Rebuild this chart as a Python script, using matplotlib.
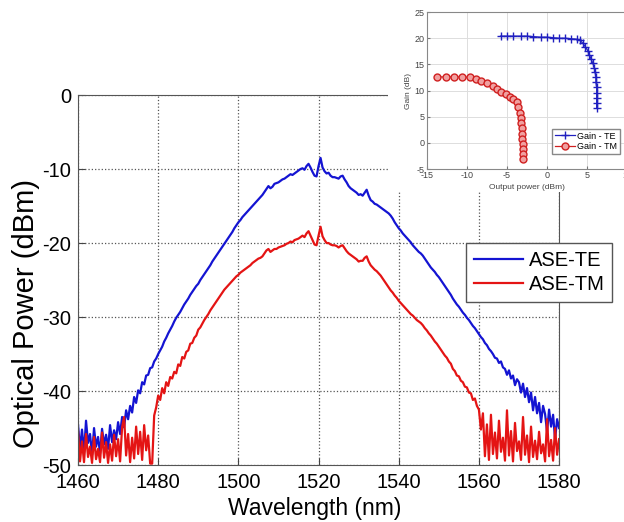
import numpy as np
import matplotlib.pyplot as plt
from matplotlib.patches import Rectangle

plt.rcParams['font.family'] = ['Liberation Sans', 'DejaVu Sans']
plt.rcParams['axes.unicode_minus'] = False

# ASE spectra, sampled every 0.5 nm from 1460 to 1580 nm
wl = np.arange(1460, 1580.01, 0.5)
ase_te = [
    -44.5, -47.8, -45.2, -48.3, -44.0, -47.0, -45.8, -48.6, -45.0, -47.5,
    -46.2, -48.4, -45.1, -47.2, -45.9, -47.8, -44.6, -46.9, -45.3, -46.5,
    -44.2, -45.8, -43.5, -44.9, -42.6, -43.8, -42.0, -42.9, -40.8, -41.6,
    -39.9, -40.3, -38.8, -39.1, -37.9, -37.8, -36.9, -36.8, -36.0, -35.6,
    -35.0, -34.5, -34.0, -33.3, -32.8, -32.2, -31.7, -31.2, -30.6, -30.1,
    -29.7, -29.3, -28.8, -28.3, -27.9, -27.5, -27.0, -26.6, -26.2, -25.8,
    -25.5, -25.0, -24.6, -24.2, -23.8, -23.4, -23.0, -22.5, -22.1, -21.7,
    -21.3, -20.9, -20.5, -20.1, -19.7, -19.3, -18.9, -18.5, -18.0, -17.6,
    -17.2, -16.9, -16.5, -16.2, -15.9, -15.6, -15.3, -15.0, -14.7, -14.4,
    -14.1, -13.8, -13.5, -13.1, -12.7, -12.3, -12.6, -12.4, -12.0, -11.9,
    -11.8, -11.6, -11.4, -11.3, -11.1, -10.9, -10.7, -10.8, -10.6, -10.4,
    -10.2, -10.0, -9.9, -10.1, -9.6, -9.3, -9.8, -10.4, -10.9, -11.0,
    -9.6, -8.5, -9.8, -10.3, -10.6, -10.5, -10.9, -11.1, -11.1, -11.2,
    -11.3, -11.0, -10.9, -11.4, -11.8, -12.3, -12.6, -12.8, -13.0, -13.2,
    -13.5, -13.4, -13.6, -13.2, -12.8, -13.6, -14.2, -14.4, -14.7, -14.8,
    -15.0, -15.2, -15.4, -15.6, -15.8, -16.0, -16.3, -16.7, -17.2, -17.6,
    -18.0, -18.3, -18.7, -19.0, -19.3, -19.6, -19.9, -20.3, -20.6, -20.9,
    -21.2, -21.4, -21.7, -22.1, -22.5, -22.9, -23.3, -23.6, -23.9, -24.3,
    -24.6, -25.0, -25.4, -25.8, -26.2, -26.6, -27.0, -27.5, -27.9, -28.3,
    -28.6, -29.0, -29.4, -29.7, -30.1, -30.4, -30.8, -31.2, -31.5, -31.9,
    -32.3, -32.7, -33.0, -33.5, -33.8, -34.3, -34.6, -35.0, -35.5, -35.6,
    -36.2, -36.0, -36.8, -37.0, -37.8, -37.2, -38.3, -37.9, -39.2, -38.4,
    -38.8, -40.2, -39.0, -40.8, -39.6, -41.5, -40.2, -42.6, -40.8, -43.0,
    -41.6, -44.2, -42.0, -43.1, -45.5, -42.5, -44.8, -43.2, -46.5, -43.8,
    -45.0]
ase_tm = [
    -45.3, -49.5, -46.8, -49.6, -45.8, -48.9, -47.5, -49.7, -46.2, -49.2,
    -47.8, -49.6, -45.6, -49.0, -46.9, -49.7, -47.2, -49.4, -45.9, -48.8,
    -46.5, -49.5, -44.9, -43.5, -48.7, -45.8, -49.6, -46.3, -49.1, -44.8,
    -48.5, -45.5, -49.3, -44.6, -48.0, -46.0, -49.8, -49.8, -43.3, -42.2,
    -40.6, -41.2, -39.6, -40.3, -38.8, -39.3, -38.1, -38.3, -37.4, -37.6,
    -36.4, -36.6, -35.4, -35.6, -34.7, -34.5, -33.6, -33.5, -32.8, -32.5,
    -31.7, -31.4, -30.9, -30.4, -30.0, -29.6, -29.1, -28.7, -28.3, -27.9,
    -27.5, -27.1, -26.7, -26.3, -26.0, -25.7, -25.4, -25.1, -24.8, -24.5,
    -24.3, -24.0, -23.8, -23.6, -23.4, -23.2, -23.0, -22.7, -22.5, -22.3,
    -22.1, -22.0, -21.8, -21.4, -21.0, -20.8, -21.2, -21.0, -20.8, -20.8,
    -20.6, -20.5, -20.4, -20.3, -20.1, -20.0, -19.8, -19.9, -19.6, -19.5,
    -19.4, -19.2, -19.0, -19.2, -18.7, -18.4, -19.0, -19.6, -20.2, -20.3,
    -19.0, -17.8, -19.1, -19.6, -20.0, -20.0, -20.2, -20.3, -20.3, -20.4,
    -20.6, -20.4, -20.3, -20.7, -21.1, -21.4, -21.6, -21.8, -22.0, -22.2,
    -22.5, -22.4, -22.4, -22.0, -21.8, -22.5, -23.0, -23.3, -23.6, -23.8,
    -24.1, -24.4, -24.8, -25.2, -25.6, -26.0, -26.4, -26.7, -27.1, -27.4,
    -27.8, -28.1, -28.4, -28.7, -29.0, -29.3, -29.6, -29.8, -30.1, -30.4,
    -30.6, -30.8, -31.1, -31.5, -31.8, -32.2, -32.5, -32.9, -33.3, -33.6,
    -34.0, -34.4, -34.8, -35.2, -35.5, -36.0, -36.3, -37.0, -37.3, -37.9,
    -38.0, -38.6, -38.8, -39.4, -39.5, -40.2, -40.3, -41.2, -41.0, -42.0,
    -42.5, -45.2, -43.0, -48.8, -44.5, -49.3, -43.2, -48.5, -45.6, -49.1,
    -44.0, -48.2, -46.3, -49.4, -42.6, -48.7, -45.4, -49.5, -44.3, -48.1,
    -46.8, -49.3, -43.5, -48.6, -46.0, -49.6, -44.8, -48.9, -46.7, -49.2,
    -45.5, -48.4, -47.2, -49.5, -43.8, -48.8, -46.6, -49.4, -45.0, -48.6,
    -46.5]

# inset: gain vs output power
te_pout = [-5.8, -5.0, -4.2, -3.3, -2.5, -1.7, -0.8, 0.0, 0.7, 1.5, 2.3, 3.0,
           3.7, 4.1, 4.5, 4.8, 5.1, 5.3, 5.5, 5.7, 5.9, 6.0, 6.1, 6.1, 6.2,
           6.2, 6.2, 6.2, 6.2]
te_gain = [20.4, 20.4, 20.4, 20.4, 20.4, 20.3, 20.2, 20.2, 20.1, 20.0, 20.0,
           19.9, 19.8, 19.6, 19.0, 18.3, 17.6, 16.8, 16.0, 15.3, 14.4, 13.5,
           12.6, 11.6, 10.6, 9.6, 8.6, 7.6, 6.6]
tm_pout = [-13.7, -12.6, -11.6, -10.6, -9.6, -8.9, -8.2, -7.5, -6.8, -6.2,
           -5.7, -5.1, -4.6, -4.2, -3.8, -3.6, -3.4, -3.3, -3.2, -3.15, -3.1,
           -3.1, -3.05, -3.05, -3.0, -3.0]
tm_gain = [12.6, 12.6, 12.6, 12.6, 12.5, 12.2, 11.9, 11.4, 10.9, 10.3, 9.8,
           9.3, 8.8, 8.3, 7.8, 6.8, 5.8, 4.8, 3.8, 2.8, 1.8, 0.8, -0.2, -1.2,
           -2.2, -3.0]

fig = plt.figure(figsize=(6.24, 5.22), dpi=100)
ax = fig.add_axes([0.125, 0.109, 0.771, 0.709])
ax.plot(wl, ase_te, color='#1414d2', lw=1.6, label='ASE-TE')
ax.plot(wl, ase_tm, color='#e41414', lw=1.6, label='ASE-TM')
ax.set_xlim(1460, 1580)
ax.set_ylim(-50, 0)
ax.set_xticks(np.arange(1460, 1581, 20))
ax.set_yticks(np.arange(-50, 1, 10))
ax.grid(True, ls=':', color='#555555', lw=0.9)
ax.tick_params(direction='in', labelsize=14.5, length=5, color='#444444')
ax.tick_params(axis='x', pad=6)
ax.tick_params(axis='y', pad=5)
for s in ax.spines.values():
    s.set_color('#555555')
ax.set_xlabel('Wavelength (nm)', fontsize=16.5)
ax.set_ylabel('Optical Power (dBm)', fontsize=21)
ax.xaxis.set_label_coords(0.493, -0.085)
ax.yaxis.set_label_coords(-0.078, 0.41)
ax.legend(loc='upper left', bbox_to_anchor=(0.747, 0.534),
          bbox_transform=fig.transFigure, borderaxespad=0, fancybox=False,
          edgecolor='#555555', framealpha=1, fontsize=14.5, handlelength=2.4,
          borderpad=0.4, labelspacing=0.25, handletextpad=0.3)

# white patch where the inset image was pasted on
cover = Rectangle((0.622, 0.632), 0.4, 0.4, transform=fig.transFigure,
                  facecolor='white', edgecolor='none', zorder=1)
fig.patches.append(cover)

ins = fig.add_axes([0.684, 0.676, 0.321, 0.301], zorder=2)
ins.plot(te_pout, te_gain, color='#2020c0', marker='+', ms=6, lw=0.9,
         label='Gain - TE')
ins.plot(tm_pout, tm_gain, color='#d02020', marker='o', ms=5, mfc='#f0a0a0',
         lw=0.9, label='Gain - TM')
ins.set_xlim(-15, 10)
ins.set_ylim(-5, 25)
ins.set_xticks(np.arange(-15, 11, 5))
ins.set_yticks(np.arange(-5, 26, 5))
ins.grid(True, color='#dddddd', lw=0.7)
ins.tick_params(direction='in', labelsize=6.5, length=2, pad=1.5,
                color='#777777', labelcolor='#444444')
for s in ins.spines.values():
    s.set_color('#888888')
ins.set_xlabel('Output power (dBm)', fontsize=6, labelpad=2.5, color='#444444')
ins.set_ylabel('Gain (dB)', fontsize=6, labelpad=2, color='#444444')
ins.legend(loc='lower right', bbox_to_anchor=(0.965, 0.096), borderaxespad=0,
           fontsize=6.5, fancybox=False, edgecolor='#888888', framealpha=1,
           handlelength=2.2, borderpad=0.3, labelspacing=0.2,
           handletextpad=0.3)

fig.savefig('out.png', dpi=100)
